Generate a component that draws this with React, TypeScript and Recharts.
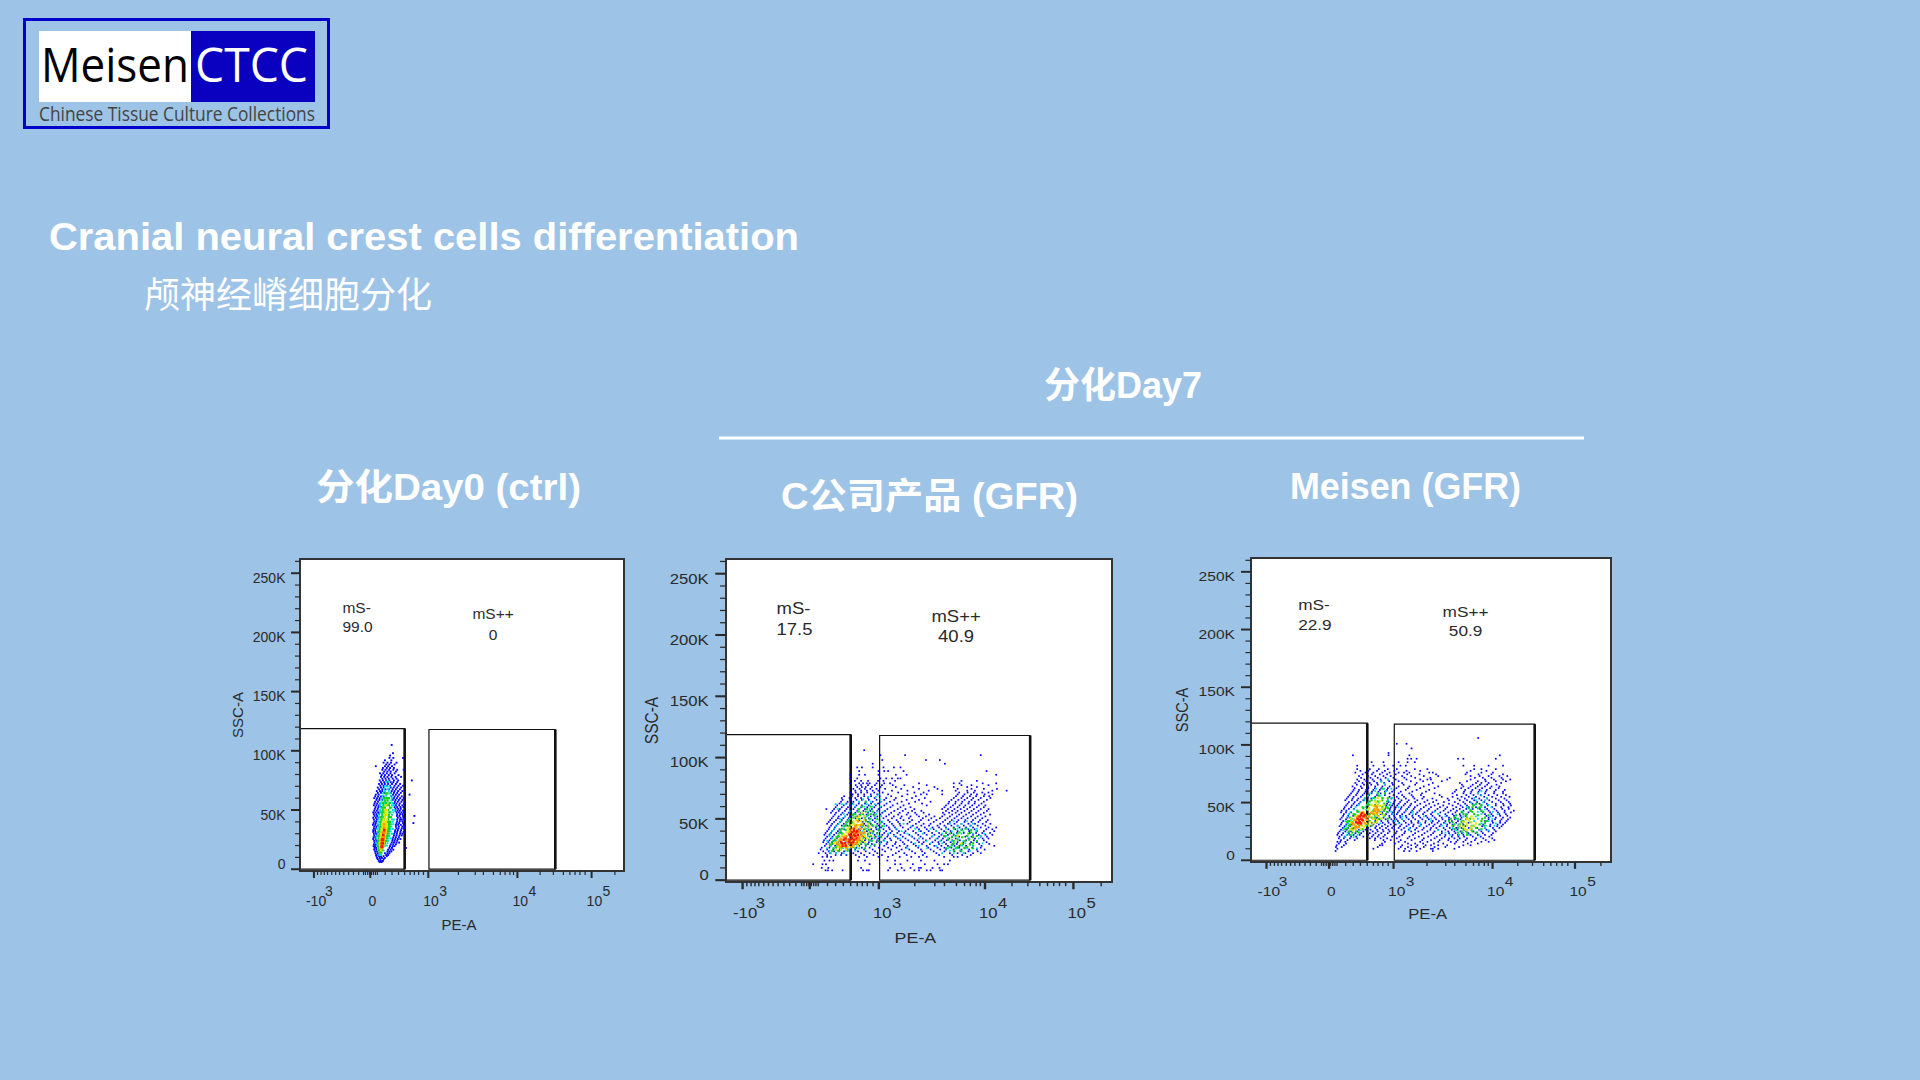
import React from 'react';
import { ScatterChart, Scatter, XAxis, YAxis, CartesianGrid, ReferenceArea, ReferenceLine, ReferenceDot, Label } from 'recharts';

type Row = [number, number[]];
// Every row: [SSC-A in thousands, PE-A display channels (0-1000 across the biexponential axis)]
const p1Blue: Row[] = [[7,[243,250,256]],[9.5,[238,246,253,262]],[12,[235,242,266,272]],[15,[232,238,270,276,282]],[18,[230,235,276,284,327]],[21,[228,234,280,288,296]],[24,[229,236,285,292,300]],[27,[227,233,288,296,305]],[30,[228,235,291,299,309,316]],[33,[226,232,294,302,312]],[36,[229,236,296,305,316,322]],[39,[227,234,298,306,318,350]],[42,[228,237,300,309,314,322]],[45,[230,238,299,307,318,353]],[48,[226,233,241,298,305,313,320]],[51,[231,240,295,303,311]],[54,[228,236,244,296,306,316]],[57,[232,241,293,302,313]],[60,[229,238,246,290,299,309,320]],[63,[234,243,287,296,306,338]],[66,[237,247,254,283,292,303,316]],[69,[240,250,258,280,289,300,312]],[72,[244,253,262,272,284,296,309]],[75,[246,256,266,276,290,303,345]],[78,[250,260,270,282,295,312]],[81,[247,257,268,279,292]],[84,[254,264,275,288,300,320]],[87,[234,262,272,284]],[90,[258,270,281,298]],[94,[276,288,318]],[98,[287]],[105,[283]],
[6,[246,252]],[8.5,[240,248,258]],[11,[236,244,250,258,268]],[13.5,[233,240,262,270,276]],[16.5,[229,236,272,280,288]],[19.5,[227,232,240,278,286,292]],[22.5,[230,238,283,290,298,306]],[25.5,[226,234,286,294,302,310]],[28.5,[229,237,290,298,307,314]],[31.5,[226,233,241,293,300,310,320]],[34.5,[228,235,298,304,314,321]],[37.5,[225,232,240,296,303,311,320]],[40.5,[230,236,300,308,316]],[43.5,[226,234,242,302,310,319]],[46.5,[228,236,244,300,309,316]],[49.5,[229,237,246,294,301,308,318]],[52.5,[233,242,250,292,300,310,319]],[55.5,[230,238,248,290,298,308,321]],[58.5,[236,245,254,286,295,305,316]],[61.5,[232,241,250,258,282,292,302,314]],[64.5,[240,250,260,280,290,300,311]],[67.5,[244,254,264,274,286,296,308]],[70.5,[248,258,268,278,292,304,318]],[73.5,[250,260,270,280,288,300]],[76.5,[254,264,274,286,298]],[79.5,[252,262,274,284,304]],[82.5,[260,270,280,296]],[85.5,[256,268,278,290]],[88.5,[266,276,292]],[92,[262,282]],[96,[278]]];
const p1Cyan: Row[] = [[12,[245,250]],[16,[241,247,258]],[20,[238,244,262,268]],[24,[240,247,266,272]],[28,[238,244,270,276]],[32,[241,248,272,280]],[36,[243,250,276,282]],[40,[242,249,278,286]],[44,[245,253,279]],[48,[247,255,280,288]],[52,[249,258,282]],[56,[250,260,278,286]],[60,[253,263,275,284]],[64,[256,268,278]],[68,[259,272]],
[22,[236,242,270]],[26,[236,241,272,280]],[30,[240,276,284]],[34,[239,245,278,286]],[38,[240,247,281,288]],[42,[243,251,284,290]],[46,[243,252,284]],[50,[246,254,286,292]],[54,[247,256,284,290]],[58,[252,262,282]],[62,[255,266,280]],[66,[262,274]],[70,[262,268,276]],[74,[266,274]]];
const p1Green: Row[] = [[14,[246,251]],[18,[243,249,255]],[22,[243,248,258,262]],[26,[245,262,267]],[30,[246,250,266,270]],[34,[248,268,273]],[38,[251,258,271,276]],[42,[252,259,272]],[46,[255,262,274]],[50,[257,265,272]],[54,[259,267,274]],[58,[262,270]],
[16,[244,252]],[20,[241,246,258]],[24,[241,260,266]],[28,[243,264,270]],[32,[245,268,274]],[36,[246,270,276]],[40,[248,272,278]],[44,[250,258,274,280]],[48,[252,260,276]],[52,[254,262,278]],[56,[256,266,276]],[60,[260,268,274]],[64,[264,270]]];
const p1Yellow: Row[] = [[16,[250]],[20,[247,257]],[24,[249,259]],[28,[250,262]],[32,[252,256,265]],[36,[256,262,268]],[40,[258,265]],[44,[262]],[48,[264]],
[18,[248,255]],[22,[246,258]],[26,[248,262]],[30,[250,264]],[34,[252,266]],[38,[254,268]],[42,[258,268]],[46,[260,268]],[50,[262,268]],[54,[264]]];
const p1Orange: Row[] = [[18,[252]],[21,[250,256]],[24,[252,257]],[27,[254,259]],[31,[256,262]],[35,[259]],[38,[260]]];
const p1Red: Row[] = [[19,[252,254]],[22,[253,255]],[25,[253,256]],[29,[257]],[33,[260]]];

const p2Blue: Row[] = [[8,[258,264,275,302,355,365,370,420,445,462,488,500,520,555,530,560]],[10,[248,265,350,425,455,478,500,505,535,553]],[13,[226,250,259,372,438,452,484,515,548,565,575]],[16,[255,268,278,342,360,418,438,470,505,540,580]],[19,[250,262,272,345,365,395,420,450,480,500,520,565,590,600,625]],[22,[240,258,270,285,300,330,350,372,392,440,462,490,515,545,580,600,620,640,660]],[25,[245,262,278,295,315,335,358,380,405,428,455,475,505,530,555,570,590,610,630,650,670]],[28,[256,270,283,298,312,328,345,362,385,410,432,450,470,492,520,540,558,575,592,605,622,640,662,695]],[31,[252,265,275,290,310,340,355,370,390,402,418,440,458,480,500,512,535,550,565,582,600,615,635,650,675]],[34,[258,272,288,345,362,378,395,412,425,445,465,488,510,528,548,562,578,595,628,645,665,680]],[37,[255,268,280,350,368,385,405,420,435,452,475,498,520,540,558,575,590,640,655,672,690]],[40,[262,275,290,348,365,382,398,415,430,448,465,485,505,525,545,565,582,600,630,650,668,695]],[43,[268,282,352,370,388,402,422,438,458,478,495,515,535,552,570,590,605,622,640,660,680,700]],[46,[262,275,290,305,358,375,392,410,430,450,470,492,512,530,555,575,592,610,628,645,665,685]],[49,[270,285,300,315,345,362,380,398,420,442,460,482,505,525,545,568,585,602,620,640,658,678]],[52,[278,292,308,322,340,358,375,392,415,435,455,478,500,518,540,560,580,598,615,635,652,672]],[55,[272,285,302,318,335,350,368,385,405,428,450,472,490,512,562,578,595,610,630,648,668]],[58,[260,280,295,312,330,345,360,378,395,418,445,465,488,560,575,592,608,625,642,660,680]],[61,[288,305,322,338,352,370,388,410,432,460,520,570,588,605,620,638,655,672]],[64,[298,315,330,345,362,380,400,425,455,490,530,578,595,612,630,645,668]],[67,[300,320,335,350,368,385,415,440,482,515,590,610,625,640,660,685]],[70,[328,342,358,375,392,420,470,505,520,560,600,618,635,650,670,690]],[73,[335,350,365,380,395,430,470,525,560,595,625,645,690,727]],[76,[340,352,362,378,400,440,485,540,590,625,650]],[79,[322,345,355,365,372,390,410,425,500,590,605,665,700]],[83,[322,340,400,415,430,445,452]],[86,[322,345,360,395,440,468,700]],[89,[345,395,410,420,460,675]],[92,[340,352,380,408,435,452]],[95,[380,567]],[98,[405,518,554]],[102,[400,464,660]],[106,[358]],
[20.5,[262,284,298,312,336,358,382,404,432,468,510,552,586,612,634]],[23.5,[252,266,280,292,306,322,342,362,386,412,448,482,508,538,566,592,608,628,652]],[26.5,[248,268,286,304,322,338,352,372,396,420,442,466,498,524,548,566,584,604,618,638,660]],[29.5,[260,276,288,302,318,336,350,368,378,398,416,438,462,486,508,528,552,570,588,598,614,632,656,682]],[32.5,[254,268,282,296,348,360,376,392,408,428,452,472,496,518,542,558,572,586,606,622,642,668]],[35.5,[262,276,292,342,356,372,388,402,418,440,458,482,504,534,552,568,586,604,620,636,660,676]],[38.5,[258,272,286,298,356,374,392,410,426,444,462,492,514,534,552,570,584,598,616,632,648,664,684]],[41.5,[266,280,294,306,344,358,376,390,408,424,442,472,500,520,538,558,576,594,612,628,644,674,690]],[44.5,[272,286,300,314,348,362,380,396,416,434,452,484,506,526,548,566,584,600,616,634,652,672]],[47.5,[266,280,296,312,326,354,368,386,404,424,446,476,500,538,562,580,598,618,636,654,674]],[50.5,[274,290,304,318,336,352,370,386,408,430,452,474,510,532,554,574,592,610,626,646,664]],[53.5,[282,298,314,330,346,364,382,400,422,446,468,494,526,566,586,604,622,640,660,684]],[56.5,[276,292,308,324,340,356,374,392,412,436,458,482,506,570,586,600,618,636,654,676]],[59.5,[284,300,316,334,350,366,384,402,426,452,478,566,582,600,616,632,650,668]],[62.5,[294,312,328,344,360,376,394,416,444,474,508,576,594,610,628,644,662]],[65.5,[302,322,338,352,370,390,410,436,468,500,584,602,618,636,654,676]],[68.5,[306,326,342,358,376,398,428,456,492,596,614,632,648,668,682]],[71.5,[322,336,350,366,384,406,446,488,512,604,626,642,664,680]],[74.5,[330,346,360,374,390,412,454,500,548,600,636,668,702]],[77.5,[336,350,368,386,404,432,462,520,610,636,680]],[81,[334,350,368,394,408,438,610,650]]];
const p2Cyan: Row[] = [[22,[272,285,305,560,590,615]],[26,[262,280,300,320,345,470,520,575,600,625,650]],[30,[268,290,305,330,360,400,490,530,560,590,620,640,665]],[34,[275,298,320,355,385,450,500,545,575,600,630,655]],[38,[270,300,360,380,420,470,510,560,590,610,640,670]],[42,[280,305,365,395,440,490,530,570,600,625,650]],[46,[292,312,368,400,460,580,610,640]],[50,[295,320,345,375]],[54,[305,330,355,390]],[58,[290,342,372]],[62,[284,300,310,330,365,385]],[66,[355,400]],[70,[395]],
[24,[268,290,310,335,580,606,632]],[28,[272,295,315,340,375,500,545,585,612,640]],[32,[262,285,310,345,372,410,520,555,585,615,650]],[36,[268,292,340,368,395,435,480,535,570,598,625,660]],[40,[276,298,355,372,398,455,500,545,585,615,648]],[44,[285,308,355,382,410,480,600,632]],[48,[298,315,372,388,405,590,625]],[52,[308,335,365,385,402]],[56,[320,345,368,392,408]],[60,[335,358,380,400]],[64,[345,375,402]],[68,[368,388]]];
const p2Green: Row[] = [[24,[275,292,315,590,610]],[27,[285,300,330,580,600,625]],[30,[275,320,350,590,612,640]],[33,[282,345,370,575,600,630]],[36,[290,352,375,565,595,625,650]],[39,[295,358,380,570,605,635]],[42,[300,360,590,620]],[45,[310,355,378]],[48,[318,362]],[51,[330,360]],[54,[335,355,375]],[58,[345,365]],
[26,[278,295,312,335,360,570,595,618,640]],[29,[270,288,342,362,385,585,608,632]],[32,[278,352,378,395,590,620,650]],[35,[286,358,385,402,585,612,640]],[38,[292,302,368,392,580,600,628]],[41,[296,310,370,395,610,635]],[44,[305,318,368,390,405]],[47,[312,328,372,398]],[50,[322,345,372,392]],[53,[328,348,368,385]],[56,[342,362,380]],[60,[352,375]],[64,[362]]];
const p2Yellow: Row[] = [[27,[290,305,320]],[30,[282,300,335,610]],[33,[290,338,352]],[36,[300,342,360,600]],[39,[312,350,360]],[42,[315,350]],[45,[325,345]],[48,[330,350]],[51,[340]],
[25,[285,298,312]],[28,[298,314,330,342]],[31,[288,345,360]],[34,[296,310,348,365]],[37,[306,330,355,372]],[40,[318,358,375]],[43,[320,340,360,372]],[46,[332,352,368]],[49,[338,358]],[52,[345,358]],[55,[352]]];
const p2Orange: Row[] = [[29,[292,310,330]],[32,[295,312,325,340]],[35,[305,330,345]],[38,[318,335,350]],[41,[325,340]],[44,[335]],
[27,[296,312,325]],[30,[288,300,318,338]],[33,[298,316,330,345]],[36,[312,338,352]],[39,[322,345,358]],[42,[330,348]],[45,[338,350]],[48,[342]]];
const p2Red: Row[] = [[30,[300,308,325]],[33,[305,320,332]],[36,[325,335]],[39,[328,338]],[42,[332]],[28,[302,310]],[31,[298,318,330]],[34,[310,326,338]],[37,[320,332,342]],[40,[332,340]]];

const p3Blue: Row[] = [[8,[235,425,440,460,505]],[10,[240,340,410,428,445,470,500,505,520,565]],[13,[238,258,358,365,420,445,462,485,500,520,545,590,610]],[16,[240,248,262,372,410,428,470,490,520,555,570,590,612,640,660]],[19,[244,258,275,295,330,345,360,378,405,435,455,480,510,530,550,565,580,600,625,645,670]],[22,[240,252,268,285,302,325,340,355,372,398,420,450,475,500,525,540,560,575,590,610,630,650,668]],[25,[246,262,278,295,312,338,352,368,385,405,428,445,465,490,510,530,548,565,582,598,618,640,660,680]],[28,[255,270,285,325,345,358,375,392,410,425,442,460,480,500,515,535,552,570,585,605,628,650,672,690]],[31,[250,265,280,340,355,372,388,402,418,438,452,472,495,510,528,545,560,578,590,645,665,685,700]],[34,[256,272,345,362,380,395,408,425,445,465,485,505,522,540,558,575,650,670,692,710]],[37,[252,268,350,368,385,400,415,432,450,470,490,510,530,550,568,585,660,680,700,720]],[40,[258,272,360,375,392,405,420,440,458,478,500,520,540,560,580,598,650,668,690,708]],[43,[252,265,370,385,398,412,430,448,468,490,512,535,555,572,590,610,640,660,682,705,730]],[46,[260,278,375,388,402,418,438,455,480,500,525,545,570,588,605,625,650,670,695,715]],[49,[268,285,300,378,395,410,428,445,470,495,520,550,575,595,615,635,655,680,700,720]],[52,[262,280,295,312,380,400,418,438,462,490,515,550,580,600,620,640,662,688,710]],[55,[270,285,305,325,345,385,405,425,450,480,530,560,585,605,625,648,670,695,718]],[58,[278,295,315,335,360,385,410,440,475,510,560,590,610,630,650,675,700]],[61,[285,300,320,340,358,378,398,430,460,495,570,595,615,635,655,680,705]],[64,[282,305,325,345,365,385,410,440,480,520,590,610,630,650,668,690]],[67,[290,310,330,350,370,392,420,460,505,580,625,640,660,695]],[70,[295,315,338,360,380,402,432,470,490,500,545,610,650,675,700,720]],[73,[300,325,345,368,388,420,445,480,520,610,635,660,690,712]],[76,[290,318,340,365,385,410,425,440,495,505,600,640,672]],[79,[295,330,355,380,405,455,490,620,640,680]],[82,[295,340,370,395,415,430,590,620,660,700]],[85,[335,368,410,435,455]],[88,[435,445,460,575,590,680]],[91,[283,382,440,691]],[93,[382]],[97,[446]],[101,[405,432]],[106,[631]],
[11.5,[236,252,352,416,436,458,480,510,540,578]],[14.5,[244,264,364,400,436,456,478,508,534,566,602,630]],[17.5,[250,268,288,344,368,388,416,446,476,500,524,548,574,596,622,652,676]],[20.5,[246,260,278,292,312,336,352,368,392,412,440,466,492,516,538,558,576,592,616,638,662]],[23.5,[242,256,272,290,306,330,346,362,380,402,426,456,482,506,530,550,568,586,604,624,644,672]],[26.5,[250,266,282,300,318,332,350,366,382,398,418,438,456,476,498,520,540,558,574,592,612,634,654,676]],[29.5,[246,260,276,290,332,348,364,380,396,414,432,450,468,488,506,524,544,562,580,596,620,642,664,684,696]],[32.5,[252,268,284,336,350,366,382,396,412,430,446,464,484,502,518,536,552,570,588,604,650,672,692,706]],[35.5,[248,264,278,348,358,374,390,404,420,438,456,476,494,514,532,550,566,582,598,660,678,696,714]],[38.5,[256,270,284,354,370,384,398,414,430,448,466,486,504,524,544,564,582,596,654,672,692,712]],[41.5,[250,264,278,364,380,394,408,426,444,462,482,504,526,548,568,586,604,644,664,686,704,722]],[44.5,[258,272,286,372,386,400,416,434,452,472,494,518,540,562,580,598,616,636,656,676,698,716]],[47.5,[264,280,294,376,392,406,424,442,462,486,510,534,560,582,600,618,640,658,680,702,722]],[50.5,[272,288,304,382,398,414,434,456,482,506,536,566,590,608,628,648,670,694,716]],[53.5,[266,282,298,316,334,390,410,430,454,476,504,546,574,594,614,634,656,680,704]],[56.5,[274,292,310,328,350,372,396,420,446,472,524,572,598,618,638,660,684,708]],[59.5,[282,298,318,336,354,372,392,416,448,486,566,592,612,632,652,676,700]],[62.5,[288,308,326,344,362,380,404,436,470,510,584,604,624,642,664,688]],[65.5,[294,314,334,352,372,394,424,456,494,586,616,636,656,682]],[68.5,[300,320,342,362,384,410,444,478,530,600,630,652,680,708]],[71.5,[306,332,352,374,396,426,456,498,552,622,644,668,696]],[74.5,[310,336,358,378,402,434,468,514,596,632,668,700]],[77.5,[304,326,350,372,398,432,470,610,654]]];
const p3Cyan: Row[] = [[20,[262,285]],[24,[268,300,540,590,625]],[28,[260,295,440,560,610,650]],[32,[270,300,360,410,470,540,600,640,680]],[36,[282,360,420,500,570,630,670]],[40,[272,290,350,395,450,520,600,640,685]],[44,[285,320,365,430,610,650]],[48,[300,330,370,620,660]],[52,[315,345,380,625,650]],[56,[325,360,640]],[60,[345,375,640]],[66,[372]],[70,[380]],
[22,[266,280,296,552,578,606,634]],[26,[256,278,304,440,520,570,600,636,660]],[30,[264,290,320,470,530,575,612,652,676]],[34,[262,278,300,350,400,500,550,585,620,660]],[38,[268,296,345,370,420,480,540,590,625,665]],[42,[276,300,340,360,390,450,510,590,630,672]],[46,[290,318,350,380,410,600,640,668]],[50,[302,326,356,388,612,645]],[54,[316,338,366,392,620,655]],[58,[330,352,372,630]],[62,[348,370,390]],[68,[362]]];
const p3Green: Row[] = [[22,[275,600]],[25,[272,292,585,615]],[28,[268,282,575,625]],[31,[275,325,565,580,635]],[34,[270,330,550,590,640,655]],[37,[275,335,345,565,600,650]],[40,[285,330,365,590,620]],[43,[295,340,370,610,640]],[46,[310,365,375,615,635]],[49,[325,370,625]],[52,[335,365]],[56,[355]],[62,[365]],
[24,[282,300,575,600,628]],[27,[262,276,310,565,590,612,640]],[30,[272,300,335,560,590,618,648]],[33,[266,282,345,560,585,610,650]],[36,[278,340,355,380,555,575,608,642]],[39,[288,345,372,570,598,630,660]],[42,[296,352,378,585,615,645]],[45,[312,328,380,605,630]],[48,[322,345,385,618,640]],[51,[330,352,378]],[54,[342,365,380]],[58,[352,372]]];
const p3Yellow: Row[] = [[26,[282,600]],[29,[280,295,315,590,612]],[32,[283,320,340,600,625]],[35,[285,320,350,605]],[38,[290,325,355,612]],[41,[305,345,360]],[44,[325,350,362]],[47,[340,358]],[50,[348]],
[27,[275,290,305,595,610]],[30,[288,308,328,580,600,620]],[33,[278,296,332,350,590,612]],[36,[278,298,340,362,600,618]],[39,[296,318,348,368]],[42,[312,335,355]],[45,[328,345,368]],[48,[335,352,368]],[51,[345,358]],[54,[352]]];
const p3Orange: Row[] = [[28,[290]],[31,[285,305]],[34,[292,312]],[37,[295,318]],[40,[305,315,340]],[43,[345,355]],[46,[350]],
[29,[292,300]],[32,[282,294,316]],[35,[288,308,322]],[38,[298,316,328]],[41,[312,334,350]],[44,[342,352]],[47,[346]]];
const p3Red: Row[] = [[32,[298,306]],[35,[300,310]],[38,[302,312]],[41,[308]],[33,[292,302]],[36,[296,306]],[39,[306,316]]];

const xMajor = [43, 217, 396, 671, 900];
const xMajorLabels: Record<number, [string, string]> = { 43: ['-10', '3'], 217: ['0', ''], 396: ['10', '3'], 671: ['10', '4'], 900: ['10', '5'] };
const xMinor = [54, 65, 75, 85, 98, 110, 122, 135, 150, 165, 181, 196, 202, 209, 215, 221, 227, 233, 239, 263, 284, 304, 323, 340, 353, 366, 381, 489, 541, 566, 597, 618, 633, 648, 659, 741, 782, 813, 833, 849, 864, 880, 972];
const xTicks = [...xMajor, ...xMinor].sort((a, b) => a - b);
const yTicks = [0, 10, 20, 30, 40, 50, 60, 70, 80, 90, 100, 110, 120, 130, 140, 150, 160, 170, 180, 190, 200, 210, 220, 230, 240, 250, 260];
const gateNeg = { x1: 0, x2: 323, top: 118.8 };
const gatePos = { x1: 398, x2: 788, top: 118 };
const layers = [
  ['#0000ff', 1.7], ['#00dcdc', 1.8], ['#12d212', 2.1], ['#e6e600', 2.2], ['#ff9500', 2.4], ['#ff1500', 2.4],
] as const;

const plots = [
  { left: 300, top: 559, w: 324, h: 312, neg: '99.0', pos: '0', rows: [p1Blue, p1Cyan, p1Green, p1Yellow, p1Orange, p1Red], dot: 1.1 },
  { left: 726, top: 559, w: 386, h: 323, neg: '17.5', pos: '40.9', rows: [p2Blue, p2Cyan, p2Green, p2Yellow, p2Orange, p2Red], dot: 1 },
  { left: 1251, top: 558, w: 360, h: 304, neg: '22.9', pos: '50.9', rows: [p3Blue, p3Cyan, p3Green, p3Yellow, p3Orange, p3Red], dot: 1 },
];
const toPoints = (rows: Row[]) => rows.flatMap(([y, xs]) => xs.map((x) => ({ x, y })));
const INK = '#2a2a2a';
const SANS = '"Liberation Sans", Arial, sans-serif';
const HEAD = '"Liberation Sans", "Noto Sans CJK SC", sans-serif';

function Plot({ p }: { p: (typeof plots)[number] }) {
  const sx = p.w / 324;
  const sy = p.h / 312;
  const txt = { fontFamily: SANS, fontSize: 14, fill: INK };
  const XTick = ({ x, y, payload }: any) => {
    const label = xMajorLabels[payload.value];
    return (
      <g transform={`translate(${x},${y}) scale(${sx},${sy})`}>
        <line x1={0} x2={0} y1={0} y2={label ? 7 : 4} stroke={INK} strokeWidth={label ? 2 : 1.2} />
        {label && payload.value === 217 && <text x={2} y={35} textAnchor="middle" {...txt}>0</text>}
        {label && payload.value !== 217 && (
          <>
            <text x={payload.value === 43 ? -8 : -5} y={35} {...txt}>{label[0]}</text>
            <text x={11} y={25} {...txt}>{label[1]}</text>
          </>
        )}
      </g>
    );
  };
  const YTick = ({ x, y, payload }: any) => {
    const major = payload.value % 50 === 0;
    return (
      <g transform={`translate(${x},${y}) scale(${sx},${sy})`}>
        <line x1={major ? -9 : -5} x2={0} y1={0} y2={0} stroke={INK} strokeWidth={major ? 2 : 1.2} />
        {major && (
          <text x={-14.5} y={payload.value === 0 ? 0 : 9.5} textAnchor="end" {...txt}>
            {payload.value === 0 ? '0' : `${payload.value}K`}
          </text>
        )}
      </g>
    );
  };
  const GateText = (anchor: string, value: string) => ({ cx, cy }: any) => (
    <text transform={`translate(${cx},${cy}) scale(${sx},${sy})`} textAnchor={anchor} {...txt} fontSize={15.5}>{value}</text>
  );
  return (
    <div style={{ position: 'absolute', left: p.left - 90, top: p.top - 20 }}>
      <ScatterChart width={p.w + 110} height={p.h + 110} margin={{ top: 20, right: 20, bottom: 0, left: 0 }}>
        <CartesianGrid horizontal={false} vertical={false} fill="#ffffff" />
        <XAxis type="number" dataKey="x" domain={[0, 1000]} ticks={xTicks} interval={0} tick={<XTick />} tickLine={false} tickSize={0} tickMargin={0} axisLine={false} height={90} allowDataOverflow>
          <Label content={({ viewBox }: any) => (
            <text transform={`translate(${viewBox.x + viewBox.width / 2 - 3 * sx},${p.h + 20 + 59 * sy}) scale(${sx},${sy})`} textAnchor="middle" {...txt} fontSize={15}>PE-A</text>
          )} />
        </XAxis>
        <YAxis type="number" dataKey="y" domain={[-1.5, 262]} ticks={yTicks} interval={0} tick={<YTick />} tickLine={false} tickSize={0} tickMargin={0} axisLine={false} width={90} allowDataOverflow>
          <Label content={({ viewBox }: any) => (
            <text transform={`translate(${90 - 57 * sx},${viewBox.y + viewBox.height / 2}) rotate(-90) scale(${sy},${sx})`} textAnchor="middle" {...txt} fontSize={15}>SSC-A</text>
          )} />
        </YAxis>
        {p.rows.map((rows, i) => (
          <Scatter key={i} data={toPoints(rows)} isAnimationActive={false}
            shape={({ cx, cy }: any) => {
              const s = layers[i][1] * p.dot;
              return <rect x={cx - s / 2} y={cy - s / 2} width={s} height={s} fill={layers[i][0]} />;
            }} />
        ))}
        <ReferenceArea x1={gateNeg.x1} x2={gateNeg.x2} y1={0} y2={gateNeg.top} fill="none" stroke="#111" strokeWidth={1.2} fillOpacity={0} />
        <ReferenceArea x1={gatePos.x1} x2={gatePos.x2} y1={0} y2={gatePos.top} fill="none" stroke="#111" strokeWidth={1.2} fillOpacity={0} />
        <ReferenceLine segment={[{ x: gateNeg.x2, y: 0 }, { x: gateNeg.x2, y: gateNeg.top }]} stroke="#111" strokeWidth={2.6} />
        <ReferenceLine segment={[{ x: gatePos.x2, y: 0 }, { x: gatePos.x2, y: gatePos.top }]} stroke="#111" strokeWidth={2.6} />
        <ReferenceArea x1={0} x2={1000} y1={-1.5} y2={262} fill="none" fillOpacity={0} stroke="#333" strokeWidth={2} />
        <ReferenceDot x={131} y={216.8} r={0} shape={GateText('start', 'mS-')} />
        <ReferenceDot x={131} y={200} r={0} shape={GateText('start', p.neg)} />
        <ReferenceDot x={596} y={211} r={0} shape={GateText('middle', 'mS++')} />
        <ReferenceDot x={596} y={194} r={0} shape={GateText('middle', p.pos)} />
      </ScatterChart>
    </div>
  );
}

export default function App() {
  return (
    <div style={{ position: 'absolute', left: 0, top: 0, width: 1920, height: 1080, overflow: 'hidden', background: '#9dc3e6' }}>
      <svg width={1920} height={1080} style={{ position: 'absolute', left: 0, top: 0, whiteSpace: 'pre' }}>
        <rect x={24.5} y={19.5} width={304} height={108} fill="none" stroke="#0000cc" strokeWidth={3} />
        <rect x={39} y={31} width={152} height={71} fill="#ffffff" />
        <rect x={191} y={31} width={124} height={71} fill="#0a00bf" />
        <text x={41} y={82} fontFamily='"Open Sans"' fontSize={47} fill="#000" textLength={148} lengthAdjust="spacingAndGlyphs">Meisen</text>
        <text x={195} y={82} fontFamily='"Open Sans"' fontSize={47} fill="#fff" textLength={113} lengthAdjust="spacingAndGlyphs">CTCC</text>
        <text x={39} y={121} fontFamily='"Open Sans"' fontSize={20} fill="#444" textLength={276} lengthAdjust="spacingAndGlyphs">Chinese Tissue Culture Collections</text>
        <g fill="#fff" fontFamily={HEAD}>
          <text x={49} y={250} fontSize={39} fontWeight={700} textLength={750} lengthAdjust="spacingAndGlyphs">Cranial neural crest cells differentiation</text>
          <text x={144} y={308} fontSize={36} textLength={288} lengthAdjust="spacingAndGlyphs">颅神经嵴细胞分化</text>
          <text x={1044} y={398} fontSize={36} fontWeight={700} textLength={158} lengthAdjust="spacingAndGlyphs">分化Day7</text>
          <text x={316} y={500} fontSize={36} fontWeight={700} textLength={265} lengthAdjust="spacingAndGlyphs">{'分化Day0  (ctrl)'}</text>
          <text x={781} y={509} fontSize={36} fontWeight={700} textLength={297} lengthAdjust="spacingAndGlyphs">{'C公司产品  (GFR)'}</text>
          <text x={1290} y={499} fontSize={36} fontWeight={700} textLength={231} lengthAdjust="spacingAndGlyphs">Meisen (GFR)</text>
        </g>
        <line x1={719} x2={1584} y1={438} y2={438} stroke="#fff" strokeWidth={3} />
      </svg>
      {plots.map((p, i) => <Plot key={i} p={p} />)}
    </div>
  );
}
